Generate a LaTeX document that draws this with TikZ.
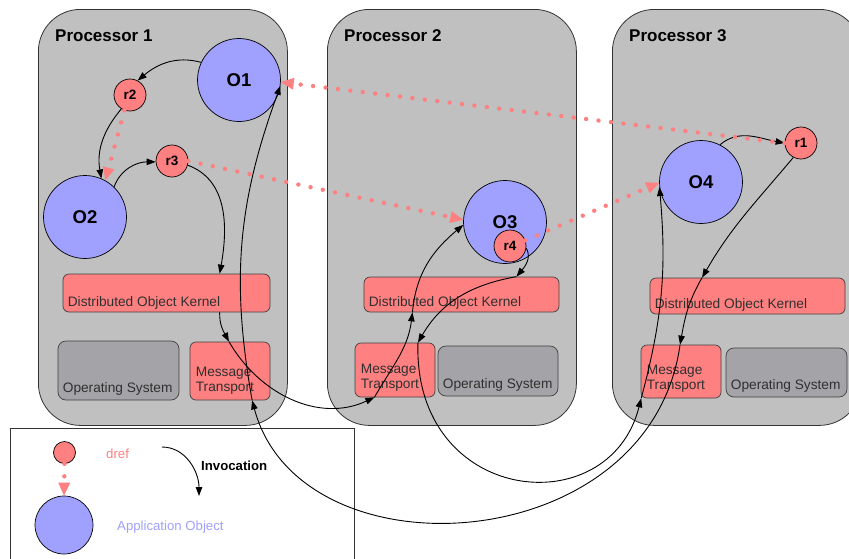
\documentclass[tikz,border=0pt]{standalone}
\usepackage{fontspec}
\setmainfont{Liberation Sans}
\usetikzlibrary{arrows.meta}
\definecolor{procgray}{HTML}{C0C0C0}
\definecolor{osgray}{HTML}{A4A4A8}
\definecolor{salmon}{HTML}{FF8080}
\definecolor{objblue}{HTML}{A0A0FF}
\definecolor{boxtext}{HTML}{303030}
\tikzset{
  procbox/.style={draw=black!80, fill=procgray, line width=0.8pt, rounded corners=42pt, inner sep=0pt, anchor=north west, minimum width=249pt, minimum height=416pt},
  proclbl/.style={font=\fontsize{17}{20}\selectfont\bfseries, anchor=base west, inner sep=0pt},
  appobj/.style={circle, draw, fill=objblue, line width=0.7pt, minimum size=83pt, inner sep=0pt, font=\fontsize{18.5}{20}\selectfont\bfseries},
  drefnode/.style={circle, draw, fill=salmon, line width=0.7pt, minimum size=32pt, inner sep=0pt, font=\fontsize{13.5}{15}\selectfont\bfseries},
  kernelbox/.style={draw=black!75, fill=salmon, line width=0.7pt, rounded corners=6pt, inner sep=0pt},
  osbox/.style={draw=black!75, fill=osgray, line width=0.7pt, rounded corners=8pt, inner sep=0pt},
  boxlbl/.style={font=\fontsize{13.7}{14.5}\selectfont, text=boxtext, inner sep=0pt, align=left},
  legendlbl/.style={font=\fontsize{13.2}{15}\selectfont, anchor=west, inner sep=0pt},
  invoke/.style={line width=0.9pt, -{Triangle[length=9pt,width=6.5pt]}},
  derefline/.style={draw=salmon, line width=4.4pt, line cap=round, dash pattern=on 0pt off 12.5pt, -{Triangle[length=13pt,width=12pt,line width=0pt]}}
}
\begin{document}
\begin{tikzpicture}[x=1pt,y=1pt]
\useasboundingbox (0,0) rectangle (849,-558);

% processors
\foreach \i/\x in {1/38,2/327,3/612} {
  \node[procbox] (p\i) at (\x,-9) {};
  \node[proclbl] (lbl\i) at ([shift={(17,-32)}]p\i.north west) {Processor \i};
}

% kernels, transports, operating systems
\node[kernelbox, minimum width=207pt, minimum height=38pt] (dok1) at (166.5,-293) {};
\node[osbox, minimum width=121pt, minimum height=59pt] (os1) at (118.5,-370.5) {};
\node[kernelbox, minimum width=80pt, minimum height=58pt] (mt1) at (230,-371) {};
\node[kernelbox, minimum width=195pt, minimum height=35pt] (dok2) at (461.5,-294.5) {};
\node[kernelbox, minimum width=80pt, minimum height=54pt] (mt2) at (395,-370) {};
\node[osbox, minimum width=120pt, minimum height=50pt] (os2) at (498,-371) {};
\node[kernelbox, minimum width=195pt, minimum height=36pt] (dok3) at (747.5,-296) {};
\node[kernelbox, minimum width=80pt, minimum height=53pt] (mt3) at (681,-371.5) {};
\node[osbox, minimum width=121pt, minimum height=49pt] (os3) at (786.5,-372.5) {};

\foreach \n in {dok1,dok2,dok3}
  \node[boxlbl, anchor=base west] (\n txt) at ([shift={(5,6)}]\n.south west) {Distributed Object Kernel};
\foreach \n in {os1,os2,os3}
  \node[boxlbl, anchor=base west] (\n txt) at ([shift={(5,8)}]\n.south west) {Operating System};
\foreach \n in {mt1,mt2,mt3}
  \node[boxlbl, anchor=south west] (\n txt) at ([shift={(6,6)}]\n.south west) {Message\\Transport};

% objects and drefs
\node[appobj] (o1) at (239,-80) {O1};
\node[appobj] (o2) at (85,-217) {O2};
\node[appobj] (o3) at (505,-222) {O3};
\node[appobj] (o4) at (701,-182) {O4};
\node[drefnode] (r1) at (801,-143) {r1};
\node[drefnode] (r2) at (130,-95) {r2};
\node[drefnode] (r3) at (172,-161) {r3};
\node[drefnode] (r4) at (510,-246) {r4};

% legend
\node[draw=black!80, line width=0.8pt, anchor=north west, inner sep=0pt, minimum width=344pt, minimum height=160pt] (legend) at (10,-428) {};
\node[circle, draw, fill=salmon, line width=0.7pt, minimum size=22pt, inner sep=0pt] (lsmall) at (64.5,-452.5) {};
\node[circle, draw, fill=objblue, line width=0.7pt, minimum size=58pt, inner sep=0pt] (lbig) at (64,-525) {};
\node[legendlbl, text=salmon] (ldref) at (106,-454) {dref};
\node[legendlbl, font=\fontsize{13.2}{15}\selectfont\bfseries] (linv) at (201,-466) {Invocation};
\node[legendlbl, text=objblue] (lobj) at (117,-527) {Application Object};
\coordinate (inv1) at (162,-447);
\coordinate (inv2) at (199,-496);
\draw[invoke] (inv1) to[out=0,in=90] (inv2);
\draw[derefline] (lsmall.south) -- (lbig.north);

% invocations
\draw[invoke] (o1.155) to[out=165,in=40] (r2.62);
\draw[invoke] (r2.238) to[out=230,in=100] (o2.67);
\draw[invoke] (o2.46) to[out=70,in=180] (r3.183);
\draw[invoke] (r3.345) to[out=-20,in=80] (dok1.20);
\draw[invoke] (dok1.-20) to[out=-92,in=118] (mt1.92);
\draw[invoke] (mt1.92) to[out=-60,in=205] (mt2.233);
\draw[invoke] (mt2.233) to[out=60,in=-97] (dok2.200);
\draw[invoke] (dok2.200) to[out=85,in=220] (o3.184);
\draw[invoke] (r4.-7) to[out=-60,in=50] (dok2.18);
\draw[invoke] (dok2.18) to[out=190,in=60] (mt2.50);
\draw[invoke] (mt2.50) .. controls +(-5,-162) and +(-32,-127) .. (mt3.214);
\draw[invoke] (mt3.214) to[out=75,in=-85] (o4.187);
\draw[invoke] (o4.63) to[out=40,in=170] (r1.180);
\draw[invoke] (r1.242) to[out=230,in=60] (dok3.158);
\draw[invoke] (dok3.158) to[out=240,in=80] (mt3.92);
\draw[invoke] (mt3.92) .. controls +(-30,-215) and +(48,-180) .. (mt1.-53);
\draw[invoke] (mt1.-53) to[out=100,in=250] (o1.-8);

% drefs
\draw[derefline] (r1.180) -- (o1.-3);
\draw[derefline] (r2.250) -- (o2.61);
\draw[derefline] (r3.east) -- (o3.177);
\draw[derefline] (r4.20) -- (o4.181);
\end{tikzpicture}
\end{document}
